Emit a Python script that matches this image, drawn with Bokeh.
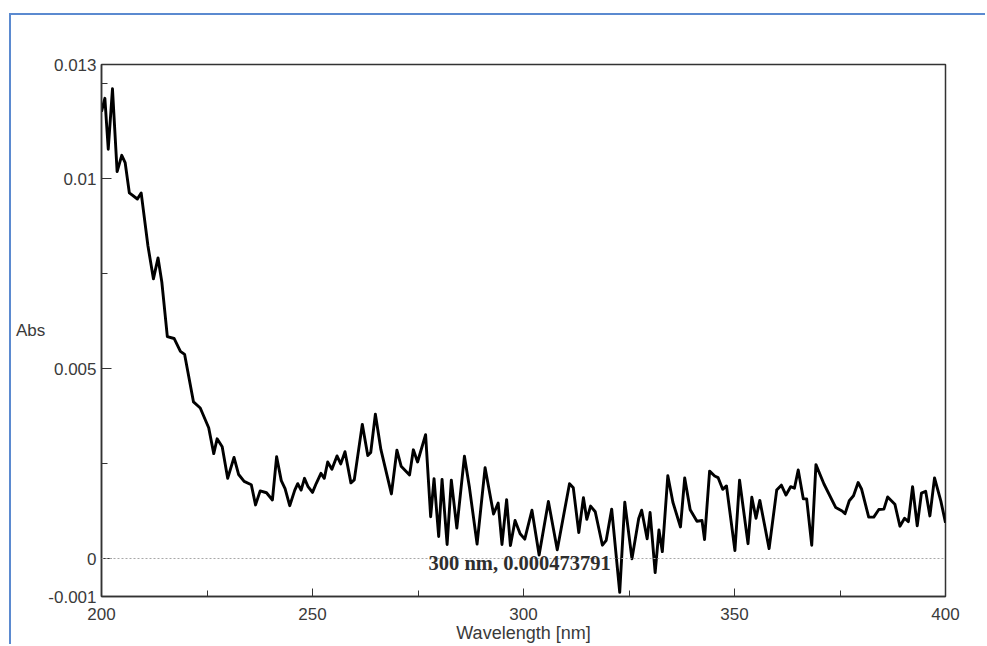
from bokeh.plotting import figure
from bokeh.models import FixedTicker, Span, Label
from bokeh.embed import file_html
from bokeh.resources import INLINE

# ---- data ----
wavelength_nm = [
    200.0, 200.8, 201.6, 202.6, 203.7, 204.8, 205.6, 206.6, 208.5, 209.4,
    211.0, 212.3, 213.4, 214.3, 215.6, 217.2, 218.7, 219.7, 221.8, 223.4,
    225.4, 226.6, 227.4, 228.6, 229.9, 231.4, 232.5, 233.8, 235.5, 236.5,
    237.6, 239.1, 240.5, 241.5, 242.6, 243.5, 244.6, 245.8, 246.5, 247.3,
    248.1, 248.9, 250.0, 250.9, 252.0, 252.8, 253.6, 254.6, 255.8, 256.7,
    257.7, 259.1, 259.9, 261.8, 263.1, 263.8, 264.9, 266.2, 268.7, 270.0,
    271.0, 273.0, 273.9, 274.9, 276.8, 278.0, 278.8, 279.9, 280.7, 281.9,
    282.9, 284.2, 286.0, 287.2, 289.0, 290.9, 292.9, 294.0, 294.9, 296.0,
    296.9, 298.0, 299.2, 300.3, 302.0, 303.7, 305.9, 308.0, 310.9, 311.8,
    313.1, 314.2, 315.0, 315.9, 317.0, 318.7, 319.6, 320.9, 322.8, 324.0,
    325.7, 327.3, 328.0, 329.3, 330.0, 331.2, 332.1, 332.9, 334.2, 335.4,
    337.2, 338.2, 339.5, 341.1, 342.3, 342.9, 344.1, 345.3, 346.1, 347.2,
    348.1, 350.1, 351.2, 353.2, 354.1, 355.1, 356.0, 358.2, 360.0, 361.1,
    362.2, 363.3, 364.2, 365.1, 366.3, 367.1, 368.3, 369.3, 371.2, 374.0,
    375.5, 376.2, 377.2, 378.2, 379.3, 380.1, 381.8, 383.0, 384.2, 385.4,
    386.3, 388.0, 389.2, 390.3, 391.2, 392.2, 393.3, 394.3, 395.3, 396.3,
    397.4, 398.9, 400.0,
]
absorbance = [
    0.01176, 0.01211, 0.01077, 0.01236, 0.01018, 0.01061, 0.01042, 0.00962, 0.00946, 0.00962,
    0.00823, 0.00736, 0.00791, 0.00727, 0.00584, 0.00579, 0.00545, 0.00537, 0.00412, 0.00396,
    0.00344, 0.00276, 0.00315, 0.00294, 0.00211, 0.00266, 0.00221, 0.00203, 0.00194, 0.00141,
    0.00178, 0.00173, 0.00154, 0.00268, 0.00205, 0.00184, 0.00139, 0.00180, 0.00197, 0.00180,
    0.00211, 0.00190, 0.00174, 0.00198, 0.00224, 0.00211, 0.00254, 0.00235, 0.00270, 0.00249,
    0.00281, 0.00199, 0.00207, 0.00353, 0.00271, 0.00279, 0.00380, 0.00287, 0.00170, 0.00285,
    0.00243, 0.00220, 0.00286, 0.00254, 0.00326, 0.00110, 0.00210, 0.00058, 0.00208, 0.00037,
    0.00206, 0.00080, 0.00269, 0.00186, 0.00038, 0.00239, 0.00117, 0.00146, 0.00037, 0.00155,
    0.00034, 0.00100, 0.00065, 0.00051, 0.00127, 0.00009, 0.00150, 0.00023, 0.00197, 0.00186,
    0.00068, 0.00160, 0.00103, 0.00138, 0.00123, 0.00035, 0.00048, 0.00130, -0.00089, 0.00148,
    -0.00001, 0.00105, 0.00127, 0.00052, 0.00121, -0.00037, 0.00075, 0.00018, 0.00218, 0.00148,
    0.00083, 0.00212, 0.00128, 0.00098, 0.00100, 0.00050, 0.00230, 0.00217, 0.00213, 0.00182,
    0.00191, 0.00021, 0.00206, 0.00039, 0.00161, 0.00106, 0.00153, 0.00026, 0.00180, 0.00193,
    0.00167, 0.00189, 0.00185, 0.00233, 0.00157, 0.00157, 0.00035, 0.00247, 0.00196, 0.00134,
    0.00125, 0.00118, 0.00152, 0.00165, 0.00200, 0.00183, 0.00109, 0.00109, 0.00129, 0.00130,
    0.00162, 0.00143, 0.00085, 0.00106, 0.00097, 0.00189, 0.00086, 0.00172, 0.00177, 0.00112,
    0.00212, 0.00151, 0.00094,
]

x_ticks = [200, 250, 300, 350, 400]
x_minor_ticks = [225, 275, 325, 375]
y_ticks = [-0.001, 0, 0.005, 0.01, 0.013]
y_tick_labels = ["-0.001", "0", "0.005", "0.01", "0.013"]
y_minor_ticks = [0.0025, 0.0075, 0.0125]

x_label = "Wavelength [nm]"
y_label = "Abs"
marker_text = "300 nm, 0.000473791"
marker_x = 277.5
marker_y = -0.00012

TEXT = "#3a3a3a"
AXIS = "#333333"
SANS = "Liberation Sans"
BLUE = "#5b8ad0"

p = figure(
    width=976, height=631,
    x_range=(200, 400), y_range=(-0.001, 0.013),
    output_backend="svg", toolbar_location=None, title=None,
    min_border_left=90, min_border_right=42,
    min_border_top=49, min_border_bottom=50,
    background_fill_color="white", border_fill_color="white",
)
# page frame of the scanned figure (blue top/left rule)
p.margin = (13, 0, 0, 9)
p.styles = {"border-top": f"2px solid {BLUE}", "border-left": f"2px solid {BLUE}"}

p.xgrid.visible = False
p.ygrid.visible = False
p.outline_line_color = AXIS
p.outline_line_width = 1.5
p.outline_line_alpha = 1.0

# x axis
xa = p.xaxis[0]
xa.ticker = FixedTicker(ticks=x_ticks, minor_ticks=x_minor_ticks)
xa.axis_label = x_label
xa.axis_label_text_font = SANS
xa.axis_label_text_font_size = "18px"
xa.axis_label_text_font_style = "normal"
xa.axis_label_text_color = TEXT
xa.axis_label_standoff = 0
xa.major_label_text_font = SANS
xa.major_label_text_font_size = "17px"
xa.major_label_text_color = TEXT
xa.major_label_standoff = 11
xa.axis_line_color = AXIS
xa.axis_line_width = 1.5
xa.major_tick_in = 8
xa.major_tick_out = 0
xa.minor_tick_in = 6
xa.minor_tick_out = 0
xa.major_tick_line_color = AXIS
xa.minor_tick_line_color = AXIS

# y axis
ya = p.yaxis[0]
ya.ticker = FixedTicker(ticks=y_ticks, minor_ticks=y_minor_ticks)
ya.major_label_overrides = dict(zip(y_ticks, y_tick_labels))
ya.axis_label = y_label
ya.axis_label_orientation = "horizontal"
ya.axis_label_text_font = SANS
ya.axis_label_text_font_size = "17px"
ya.axis_label_text_font_style = "normal"
ya.axis_label_text_color = TEXT
ya.axis_label_standoff = 0
ya.major_label_text_font = SANS
ya.major_label_text_font_size = "17px"
ya.major_label_text_color = TEXT
ya.major_label_standoff = 5
ya.axis_line_color = AXIS
ya.axis_line_width = 1.5
ya.major_tick_in = 10
ya.major_tick_out = 0
ya.minor_tick_in = 6
ya.minor_tick_out = 0
ya.major_tick_line_color = AXIS
ya.minor_tick_line_color = AXIS

# zero baseline
p.add_layout(Span(location=0, dimension="width", line_color="#a8a8a8",
                  line_width=1.2, line_dash="2 2"))

# cursor read-out text
p.add_layout(Label(x=marker_x, y=marker_y, text=marker_text,
                   text_font="Liberation Serif", text_font_style="bold",
                   text_font_size="20.5px", text_color="#2e2e2e",
                   text_baseline="middle", text_align="left"))

# spectrum
p.line(wavelength_nm, absorbance, line_color="black", line_width=2.9,
       line_join="round")

open("out.html", "w").write(file_html(p, INLINE))
